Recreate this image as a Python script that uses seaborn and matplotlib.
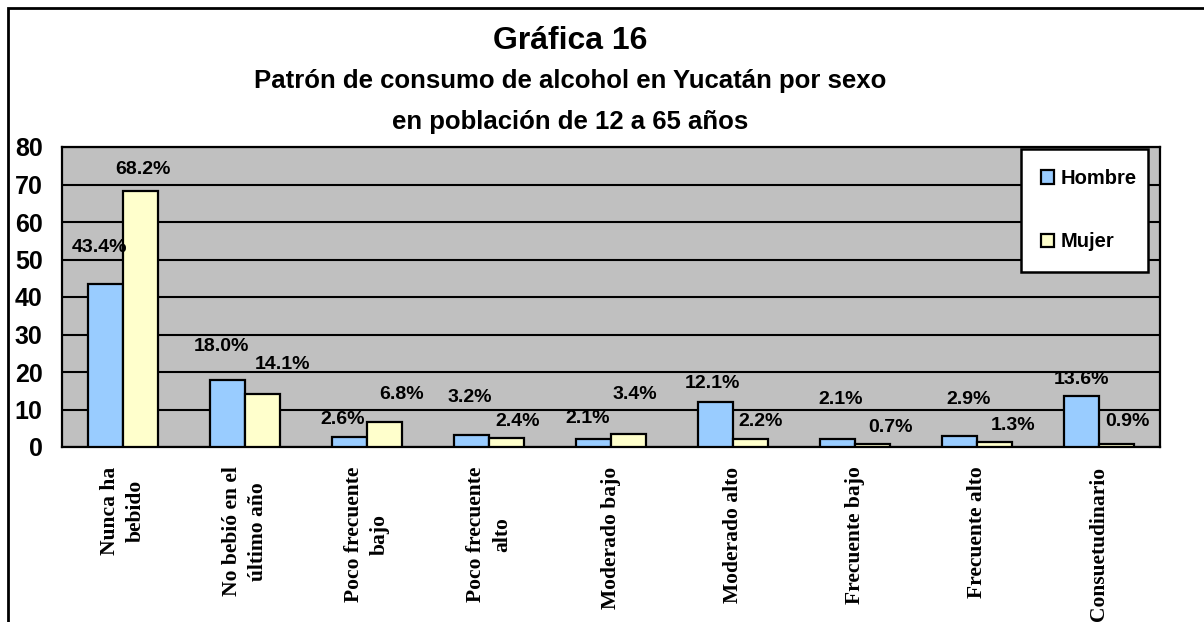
import numpy as np
import pandas as pd
import matplotlib
matplotlib.use('Agg')
import matplotlib.pyplot as plt
import seaborn as sns
from matplotlib.patches import Rectangle

# Data
categorias = ['Nunca ha\nbebido', 'No bebió en el\núltimo año', 'Poco frecuente\nbajo',
              'Poco frecuente\nalto', 'Moderado bajo', 'Moderado alto',
              'Frecuente bajo', 'Frecuente alto', 'Consuetudinario']
hombre = [43.4, 18.0, 2.6, 3.2, 2.1, 12.1, 2.1, 2.9, 13.6]
mujer = [68.2, 14.1, 6.8, 2.4, 3.4, 2.2, 0.7, 1.3, 0.9]
series = ['Hombre', 'Mujer']
colores = ['#99CCFF', '#FFFFCC']

# where the data labels sit (y in data units, x shift in category units)
lab_y = {'Hombre': [53.1, 26.9, 7.2, 13.1, 7.5, 16.8, 12.8, 12.8, 17.9],
         'Mujer': [73.9, 21.9, 13.9, 6.7, 13.9, 6.7, 5.1, 5.6, 6.9]}
lab_dx = {'Hombre': [-0.045, -0.045, -0.053, -0.016, -0.045, -0.025, 0.029, 0.078, 0.004],
          'Mujer': [0.02, 0.16, 0.135, 0.086, 0.053, 0.078, 0.144, 0.152, 0.086]}

df = pd.DataFrame({
    'Categoria': categorias * 2,
    'Sexo': ['Hombre'] * len(hombre) + ['Mujer'] * len(mujer),
    'Valor': hombre + mujer,
})

sns.set_style('white')
plt.rcParams['font.family'] = ['Liberation Sans', 'DejaVu Sans']
plt.rcParams['text.color'] = 'black'
plt.rcParams['xtick.color'] = 'black'
plt.rcParams['ytick.color'] = 'black'

fig = plt.figure(figsize=(12.04, 6.22), dpi=100)
ax = fig.add_axes([62 / 1204, 1 - 447 / 622, 1098 / 1204, 300 / 622])
ax.set_facecolor('#C0C0C0')

sns.barplot(data=df, x='Categoria', y='Valor', hue='Sexo', palette=colores,
            width=0.58, edgecolor='black', linewidth=1.6, saturation=1,
            ax=ax, zorder=3)

ax.set_ylim(0, 80)
ax.set_xlim(-0.5, len(categorias) - 0.5)
ax.set_yticks(range(0, 81, 10))
ax.yaxis.grid(True, color='black', linewidth=1.5, zorder=0)
ax.set_axisbelow(True)
for s in ax.spines.values():
    s.set_color('black')
    s.set_linewidth(1.6)

ax.set_xlabel('')
ax.set_ylabel('')
ax.set_xticks(range(len(categorias)))
ax.set_xticklabels(categorias, rotation=90, ha='center', va='top', multialignment='center',
                   linespacing=1.4, fontfamily='Liberation Serif', fontweight='bold',
                   fontsize=15.5)
ax.set_xticks(np.arange(-0.5, len(categorias), 1), minor=True)
ax.tick_params(axis='x', which='major', length=0, pad=14)
ax.tick_params(axis='x', which='minor', length=8, width=1.5, color='black', direction='out')
ax.tick_params(axis='y', length=8, width=1.5, color='black', direction='out', pad=6)
for t in ax.get_yticklabels():
    t.set_fontweight('bold')
    t.set_fontsize(18)

# data labels
for cont, nombre in zip(ax.containers, series):
    for i, bar in enumerate(cont):
        v = bar.get_height()
        xc = bar.get_x() + bar.get_width() / 2 + lab_dx[nombre][i]
        ax.text(xc, lab_y[nombre][i], f'{v:.1f}%', ha='center', va='center',
                fontsize=14, fontweight='bold', zorder=5)

handles, labels = ax.get_legend_handles_labels()
leg = ax.legend(handles, labels, loc='upper left', mode='expand',
                bbox_to_anchor=(0.8734, 0.5, 0.1157, 0.4933),
                fancybox=False, framealpha=1, edgecolor='black', handlelength=0.65,
                handleheight=0.65, handletextpad=0.3, labelspacing=2.2, borderpad=1.0,
                borderaxespad=0, prop={'weight': 'bold', 'size': 14.5})
leg.get_frame().set_linewidth(1.8)
leg.set_zorder(10)

tx = 570 / 1204
fig.text(tx, 1 - 41 / 622, 'Gráfica 16', ha='center', va='center',
         fontsize=23, fontweight='bold')
fig.text(tx, 1 - 81 / 622, 'Patrón de consumo de alcohol en Yucatán por sexo',
         ha='center', va='center', fontsize=18.5, fontweight='bold')
fig.text(tx, 1 - 122 / 622, 'en población de 12 a 65 años',
         ha='center', va='center', fontsize=18.5, fontweight='bold')

# outer chart frame
fig.patches.append(Rectangle((8 / 1204, -0.1), 1.2, 1.1 - 8 / 622, transform=fig.transFigure,
                             fill=False, edgecolor='black', linewidth=2))

fig.savefig('out.png', dpi=100)
